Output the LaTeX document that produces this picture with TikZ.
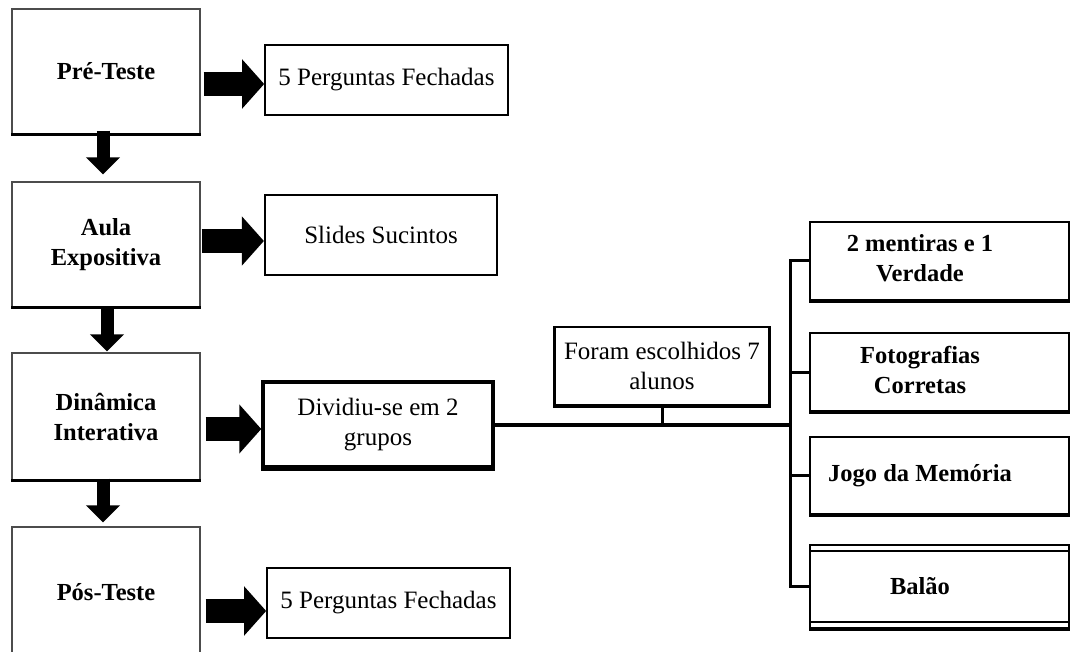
\documentclass[tikz,border=0pt]{standalone}
\usepackage{fontspec}
\setmainfont{Liberation Serif}
\usetikzlibrary{arrows.meta,calc}
\begin{document}
\begin{tikzpicture}[x=1pt,y=-1pt,
  lbox/.style={draw=black!70, line width=1.3pt, minimum width=188pt, inner sep=0pt,
    align=center, font=\bfseries\fontsize{24.5}{30}\selectfont},
  mbox/.style={draw, line width=1.6pt, inner sep=0pt, align=center,
    font=\fontsize{25}{30}\selectfont},
  rbox/.style={draw, line width=2pt, minimum width=259pt, inner sep=0pt,
    font=\bfseries\fontsize{24.5}{30}\selectfont},
  harrow/.style={line width=24pt, -{Triangle[length=22pt,width=48pt]}},
  varrow/.style={line width=13pt, -{Triangle[length=17pt,width=33pt]}},
  conn/.style={line width=3pt},
  thickbottom/.style={line width=3pt}]
\useasboundingbox (0,0) rectangle (1071,652);
\clip (0,0) rectangle (1071,652);
\fill[white] (0,0) rectangle (1071,652);

% left column
\node[lbox, minimum height=125pt] (b1) at (106,71.5) {Pré-Teste};
\node[lbox, minimum height=125pt] (b2) at (106,244.5) {Aula\\Expositiva};
\node[lbox, minimum height=127pt] (b3) at (106,416.5) {Dinâmica\\Interativa};
\node[lbox, minimum height=130pt] (b4) at (106,592) {Pós-Teste};
\foreach \b in {b1,b2,b3}{\draw[thickbottom] (\b.south west) -- (\b.south east);}

% middle column
\node[mbox, minimum width=243pt, minimum height=70pt] (p1) at (386.5,80) {5 Perguntas Fechadas};
\node[mbox, line width=2.2pt, minimum width=232pt, minimum height=80pt] (s) at (381,235) {Slides Sucintos};
\node[mbox, line width=3.5pt, minimum width=230pt, minimum height=85pt] (d) at (378,424.5) {Dividiu-se em 2\\grupos};
\node[mbox, minimum width=243pt, minimum height=70pt] (p2) at (388.5,603) {5 Perguntas Fechadas};
\draw[line width=5pt] (d.south west) -- (d.south east);

% chosen students
\node[mbox, line width=2.5pt, minimum width=215pt, minimum height=78pt] (f) at (662,366) {Foram escolhidos 7\\alunos};
\draw[line width=4pt] (f.south west) -- (f.south east);

% right column
\node[rbox, minimum height=78pt] (r1) at (939.5,261)
  {\begin{tabular}{@{}c@{}}2 mentiras e 1\\Verdade\end{tabular}\kern39pt};
\node[rbox, minimum height=78pt] (r2) at (939.5,372)
  {\begin{tabular}{@{}c@{}}Fotografias\\Corretas\end{tabular}\kern39pt};
\node[rbox, minimum height=77pt] (r3) at (939.5,475.5)
  {Jogo da Memória\kern39pt};
\node[rbox, minimum height=83pt] (r4) at (939.5,586.5)
  {Balão\kern39pt};
\foreach \r in {r1,r2,r3,r4}{\draw[line width=3.5pt] (\r.south west) -- (\r.south east);}
\draw[line width=1.5pt] ($(r4.north west)+(0,7)$) -- ($(r4.north east)+(0,7)$);
\draw[line width=1.5pt] ($(r4.south west)+(0,-7)$) -- ($(r4.south east)+(0,-7)$);

% block arrows
\draw[harrow] ($(b1.east |- p1.west)+(3,4)$) -- ($(p1.west)+(0,4)$);
\draw[harrow] ($(b2.east |- s.west)+(1,6)$) -- ($(s.west)+(0,6)$);
\draw[harrow] ($(b3.east |- d.west)+(5,4.5)$) -- ($(d.west)+(0,4.5)$);
\draw[harrow] ($(b4.east |- p2.west)+(5,8)$) -- ($(p2.west)+(0,8)$);

\draw[varrow] ($(b1.south)+(-3,-4)$) -- ($(b2.north)+(-3,-7)$);
\draw[varrow] ($(b2.south)+(1,0)$) -- ($(b3.north)+(1,-1)$);
\draw[varrow] ($(b3.south)+(-3,-2)$) -- ($(b4.north)+(-3,-4)$);

% connectors
\coordinate (vx) at (790,0);
\draw[line width=4pt] (d.east) -- (d.east -| vx);
\draw[conn] (f.south) -- (f.south |- d.east);
\draw[conn, line cap=rect] (vx |- r1.west) -- (vx |- r4.west);
\foreach \r in {r1,r2,r3,r4}{\draw[conn] (vx |- \r.west) -- (\r.west);}
\end{tikzpicture}
\end{document}
